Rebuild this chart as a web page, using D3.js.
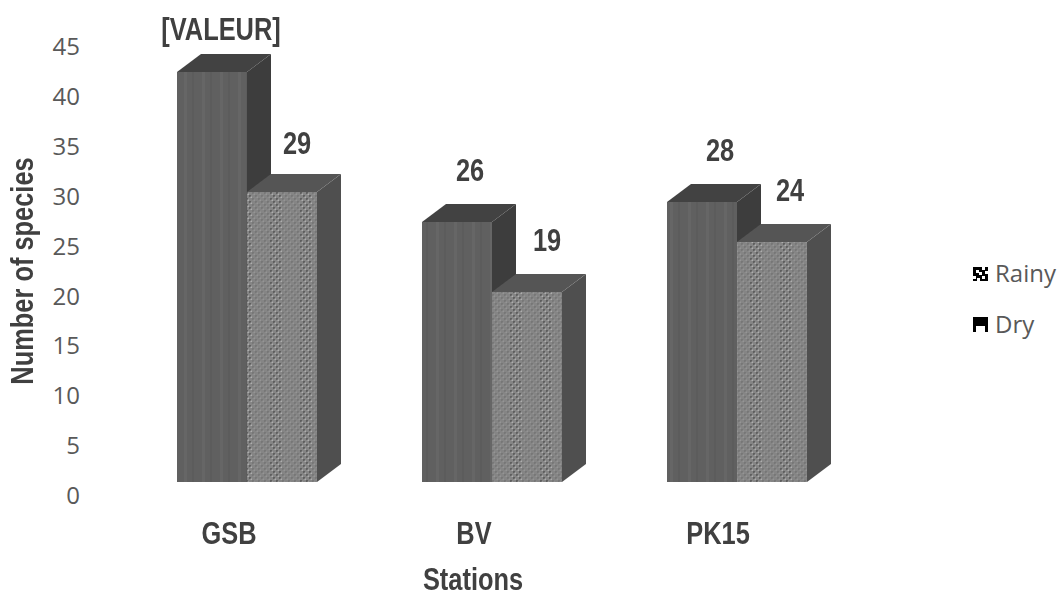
<!DOCTYPE html>
<html>
<head>
<meta charset="utf-8">
<script src="https://cdn.jsdelivr.net/npm/d3@7/dist/d3.min.js"></script>
<style>
html,body{margin:0;padding:0;background:#fff;overflow:hidden}
svg{display:block}
.tick-label{font-family:"Open Sans","Noto Sans",sans-serif;font-size:24px;fill:#595959}
.bold-label{font-family:"Liberation Sans Narrow","Liberation Sans",Arial,sans-serif;font-weight:700;fill:#404040}
.legend-label{font-family:"Open Sans","Noto Sans",sans-serif;font-size:24px;fill:#595959}
</style>
</head>
<body>
<svg id="chart" width="1059" height="591"></svg>
<script>
// Species counts per sampling station and season
const stations = ["GSB", "BV", "PK15"];
const dryValues = [41, 26, 28];
const rainyValues = [29, 19, 24];
const dryLabels = ["[VALEUR]", "26", "28"];
const rainyLabels = ["29", "19", "24"];
const yTicks = [0, 5, 10, 15, 20, 25, 30, 35, 40, 45];
const seasons = ["Rainy", "Dry"];

const svg = d3.select("#chart");
const defs = svg.append("defs");

// Soft edge for the extruded bars
const soft = defs.append("filter").attr("id", "soft")
  .attr("x", "-5%").attr("y", "-5%").attr("width", "110%").attr("height", "110%");
soft.append("feGaussianBlur").attr("stdDeviation", 0.6);

// Lighter softening for the bold captions
const softText = defs.append("filter").attr("id", "softText")
  .attr("x", "-5%").attr("y", "-10%").attr("width", "110%").attr("height", "120%");
softText.append("feGaussianBlur").attr("stdDeviation", 0.4);

// Dry fill: dark grey with faint vertical bands
const dryFill = defs.append("pattern").attr("id", "dryFill")
  .attr("patternUnits", "userSpaceOnUse").attr("width", 18).attr("height", 8);
dryFill.append("rect").attr("width", 18).attr("height", 8).attr("fill", "#616161");
dryFill.append("rect").attr("x", 4).attr("width", 3).attr("height", 8).attr("fill", "#666666");
dryFill.append("rect").attr("x", 12).attr("width", 2).attr("height", 8).attr("fill", "#5c5c5c");

// Rainy fill: mid grey dither whose dots gather into vertical bands
const rainyFill = defs.append("pattern").attr("id", "rainyFill")
  .attr("patternUnits", "userSpaceOnUse").attr("width", 30).attr("height", 6);
rainyFill.append("rect").attr("width", 30).attr("height", 6).attr("fill", "#858585");
d3.range(0, 30, 3).forEach(px => {
  d3.range(0, 6, 3).forEach(py => {
    if ((px / 3 + py / 3) % 2 !== 0) return;
    const inBand = px < 12;
    rainyFill.append("rect").attr("x", px).attr("y", py).attr("width", 2).attr("height", 2)
      .attr("fill", inBand ? "#5e5e5e" : "#777777");
    rainyFill.append("rect").attr("x", px + 1.5).attr("y", py + 1.5).attr("width", 1.5).attr("height", 1.5)
      .attr("fill", inBand ? "#adadad" : "#959595");
  });
});

// Scales: tick labels sit slightly below the front-face baseline because of the 3D projection
const yAxisScale = d3.scaleLinear().domain([0, 45]).range([495, 46]);
const yBar = d3.scaleLinear().domain([0, 45]).range([482, 32]);
const xStation = d3.scalePoint().domain(stations).range([177, 667]);
const barWidth = 70;
const depthX = 24, depthY = 18;

const axis = d3.axisLeft(yAxisScale).tickValues(yTicks).tickSize(0).tickPadding(0);
const axisG = svg.append("g").attr("transform", "translate(80,0)").call(axis);
axisG.select(".domain").remove();
axisG.selectAll("text").attr("class", "tick-label").attr("font-size", null).attr("font-family", null)
  .attr("fill", null).attr("dy", "0.36em");

const barsLayer = svg.append("g").attr("filter", "url(#soft)");

function drawBar(x, value, frontFill, topFill, sideFill) {
  const y0 = yBar(0), y1 = yBar(value), w = barWidth;
  const g = barsLayer.append("g");
  g.append("path").attr("fill", sideFill)
    .attr("d", d3.line()([[x + w, y1], [x + w + depthX, y1 - depthY], [x + w + depthX, y0 - depthY], [x + w, y0]]) + "Z");
  g.append("path").attr("fill", topFill)
    .attr("d", d3.line()([[x, y1], [x + depthX, y1 - depthY], [x + w + depthX, y1 - depthY], [x + w, y1]]) + "Z");
  g.append("rect").attr("x", x).attr("y", y1).attr("width", w).attr("height", y0 - y1).attr("fill", frontFill);
}

stations.forEach((s, i) => {
  const xDry = xStation(s);
  drawBar(xDry, dryValues[i], "url(#dryFill)", "#424242", "#3e3e3e");
  drawBar(xDry + barWidth, rainyValues[i], "url(#rainyFill)", "#555555", "#505050");
});

// Bold captions squeezed horizontally to a narrow face
function narrowText(text, cx, baseline, size, rotate) {
  const node = svg.append("text").attr("class", "bold-label").attr("font-size", size)
    .attr("text-anchor", "middle").attr("filter", "url(#softText)").text(text);
  const t = rotate ? `translate(${cx},${baseline}) rotate(-90) scale(0.82,1)` : `translate(${cx},${baseline}) scale(0.82,1)`;
  node.attr("transform", t);
  return node;
}

// Hand placement of each value caption relative to its bar: [dx, dy]
const dryNudge = [[44, -32], [48, -41], [53, -41]];
const rainyNudge = [[50, -38], [55, -41], [53, -41]];
const stationCaptionDx = [52, 52, 51];

stations.forEach((s, i) => {
  const xDry = xStation(s);
  narrowText(dryLabels[i], xDry + dryNudge[i][0], yBar(dryValues[i]) + dryNudge[i][1], 31);
  narrowText(rainyLabels[i], xDry + barWidth + rainyNudge[i][0], yBar(rainyValues[i]) + rainyNudge[i][1], 31);
  narrowText(s, xDry + stationCaptionDx[i], 544, 31);
});
narrowText("Stations", 473, 590, 31);
narrowText("Number of species", 33, 271, 31, true);

// Legend
const legendY = d3.scalePoint().domain(seasons).range([274, 325]);
const legend = svg.append("g");
seasons.forEach(s => {
  const y = legendY(s);
  const g = legend.append("g").attr("transform", `translate(972,${y - 7})`);
  if (s === "Rainy") {
    g.append("rect").attr("x", 1).attr("width", 15).attr("height", 14).attr("fill", "#000");
    [[3, 3], [9, 0], [0, 9], [9, 9], [6, 5], [12, 4], [4, 11]].forEach(([a, b]) =>
      g.append("rect").attr("x", a + 1).attr("y", b).attr("width", 3).attr("height", 3).attr("fill", "#fff"));
  } else {
    g.append("rect").attr("x", 1).attr("y", -1).attr("width", 15).attr("height", 9).attr("fill", "#000");
    g.append("rect").attr("x", 1).attr("y", 8).attr("width", 3).attr("height", 6).attr("fill", "#000");
    g.append("rect").attr("x", 13).attr("y", 8).attr("width", 3).attr("height", 6).attr("fill", "#000");
  }
  legend.append("text").attr("class", "legend-label").attr("x", 995).attr("y", y + 8).text(s);
});
</script>
</body>
</html>
